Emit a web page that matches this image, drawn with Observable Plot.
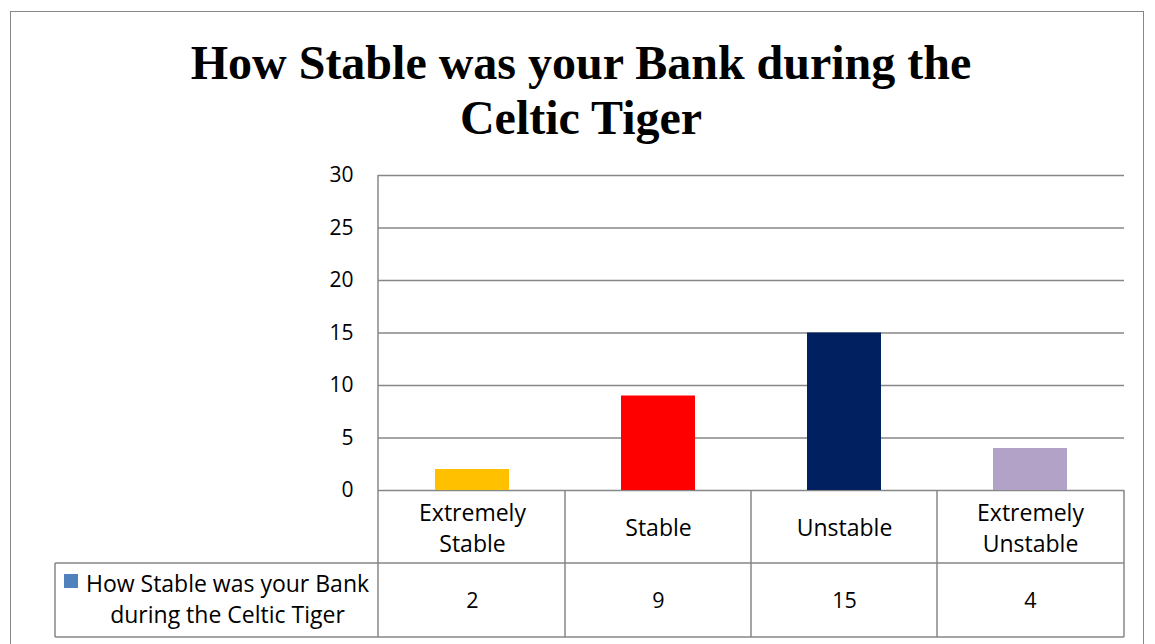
<!DOCTYPE html>
<html><head><meta charset="utf-8">
<script src="https://cdn.jsdelivr.net/npm/d3@7"></script>
<script src="https://cdn.jsdelivr.net/npm/@observablehq/plot@0.6"></script>
<style>
body{margin:0;background:#fff;}
#page{position:relative;width:1155px;height:644px;overflow:hidden;background:#fff;}
#frame{position:absolute;left:10px;top:11px;width:1132px;height:700px;border:1.5px solid #878787;pointer-events:none;}
#title{position:absolute;left:7px;top:35px;width:1148px;text-align:center;font:bold 48px "Liberation Serif","Times New Roman",serif;line-height:55px;color:#000;}
#chart{position:absolute;left:0;top:160px;}
</style></head><body>
<div id="page">
  <div id="title">How Stable was your Bank during the<br>Celtic Tiger</div>
  <div id="chart"></div>
  <div id="frame"></div>
</div>
<script>
const categories = ["Extremely Stable", "Stable", "Unstable", "Extremely Unstable"];
const counts = [2, 9, 15, 4];
const barColors = ["#FFC000", "#FF0000", "#002060", "#B3A2C7"];
const yTicks = [0, 5, 10, 15, 20, 25, 30];
const seriesName = "How Stable was your Bank during the Celtic Tiger";
const seriesColor = "#4F81BD";

const data = categories.map((c, i) => ({category: c, count: counts[i]}));
const font = "'Open Sans', Lato, sans-serif";
const lineColor = "#878787";

function tableMark(index, scales, values, dims) {
  const x = scales.x, y = scales.y;
  const left = dims.marginLeft, right = dims.width - dims.marginRight;
  const r0 = y(0), r1 = r0 + 73, r2 = r0 + 147;
  const legendLeft = 55;
  const g = d3.create("svg:g");
  const lines = g.append("g").attr("stroke", lineColor).attr("stroke-width", 1.5).attr("fill", "none");
  const line = (x1, y1, x2, y2) => lines.append("line").attr("x1", x1).attr("y1", y1).attr("x2", x2).attr("y2", y2);
  line(left, y(yTicks[yTicks.length - 1]), left, r2);
  categories.slice(1).map(c => x(c)).concat([right]).forEach(e => line(e, r0, e, r2));
  line(legendLeft, r1, right, r1);
  line(legendLeft, r2, right, r2);
  line(legendLeft, r1, legendLeft, r2);
  g.append("rect").attr("x", legendLeft + 9).attr("y", r1 + 11).attr("width", 14).attr("height", 14).attr("fill", seriesColor);
  const words = seriesName.split(" ");
  const rows = [words.slice(0, 5).join(" "), words.slice(5).join(" ")];
  const tx = (legendLeft + left) / 2 + 11;
  rows.forEach((t, i) => {
    g.append("text").attr("x", tx).attr("y", r1 + 21 + i * 31).attr("dy", "0.35em")
      .attr("text-anchor", "middle").attr("fill", "#000").attr("font-size", 23).text(t);
  });
  return g.node();
}

const chart = Plot.plot({
  width: 1155,
  height: 484,
  marginTop: 15,
  marginBottom: 154,
  marginLeft: 378,
  marginRight: 31,
  style: {fontFamily: font, fontSize: "20px", color: "#000", background: "transparent"},
  x: {domain: categories, padding: 0, axis: null},
  y: {domain: [0, 30], axis: null},
  color: {domain: categories, range: barColors},
  marks: [
    Plot.ruleY(yTicks, {stroke: lineColor, strokeWidth: 1.5}),
    Plot.barY(data, {x: "category", y: "count", fill: "category", insetLeft: 56, insetRight: 56}),
    Plot.axisY(yTicks, {tickSize: 0, tickPadding: 25, fontSize: 21, fill: "#000", label: null}),
    tableMark,
    Plot.text(data, {x: "category", frameAnchor: "bottom", dy: 36, text: "category", lineWidth: 5, lineAnchor: "middle", lineHeight: 1.35, fontSize: 23, fill: "#000"}),
    Plot.text(data, {x: "category", frameAnchor: "bottom", dy: 111, text: d => String(d.count), lineAnchor: "middle", fontSize: 21.5, fill: "#000"})
  ]
});
document.getElementById("chart").appendChild(chart);
</script>
</body></html>
